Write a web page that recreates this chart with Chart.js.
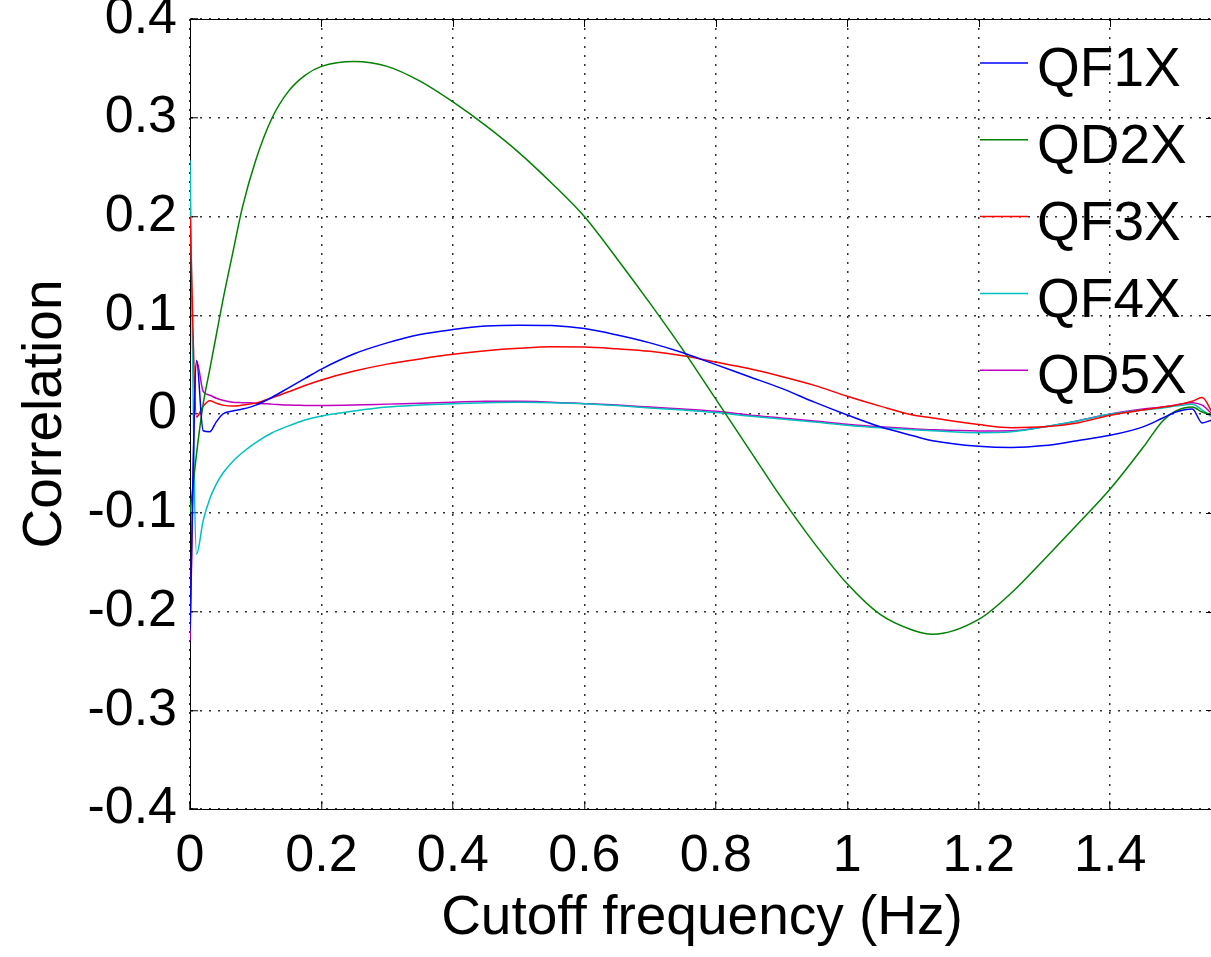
<!DOCTYPE html>
<html>
<head>
<meta charset="utf-8">
<title>Correlation vs cutoff frequency</title>
<script src="https://cdn.jsdelivr.net/npm/chart.js@4.4.1/dist/chart.umd.min.js"></script>
<style>
  html, body { margin: 0; padding: 0; background: #fff; overflow: hidden; }
  #wrap { width: 1214px; height: 957px; }
</style>
</head>
<body>
<div id="wrap"><canvas id="corrChart" width="1214" height="957"></canvas></div>
<script>
// cutoff frequency (Hz)
const freq = [0, 0.01, 0.02, 0.03, 0.04, 0.05, 0.065, 0.08, 0.1, 0.125, 0.15, 0.175, 0.2,
  0.25, 0.3, 0.35, 0.4, 0.45, 0.5, 0.55, 0.6, 0.65, 0.7, 0.75, 0.8, 0.85, 0.9, 0.95, 1.0,
  1.05, 1.1, 1.13, 1.2, 1.25, 1.3, 1.35, 1.4, 1.45, 1.48, 1.5, 1.525, 1.54, 1.555];

const qf1x = [-0.22, 0.054, -0.017, -0.018, -0.008, 0.0, 0.003, 0.005, 0.009, 0.017, 0.0265, 0.036, 0.0455,
  0.061, 0.072, 0.0805, 0.0855, 0.089, 0.090, 0.0895, 0.0865, 0.080, 0.072, 0.062, 0.050, 0.038, 0.026, 0.012, -0.001,
  -0.013, -0.022, -0.027, -0.0327, -0.034, -0.032, -0.027, -0.0216, -0.013, -0.004, 0.002, 0.005, -0.009, -0.006];

const qd2x = [-0.10, -0.04, 0.01, 0.045, 0.08, 0.115, 0.163, 0.210, 0.257, 0.300, 0.327, 0.343, 0.352,
  0.357, 0.352, 0.337, 0.316, 0.292, 0.265, 0.234, 0.200, 0.157, 0.112, 0.065, 0.015, -0.035, -0.085, -0.131, -0.172,
  -0.203, -0.219, -0.223, -0.208, -0.181, -0.147, -0.112, -0.076, -0.034, -0.007, 0.003, 0.007, 0.002, -0.001];

const qf3x = [0.20, -0.003, 0.008, 0.0135, 0.011, 0.009, 0.008, 0.009, 0.011, 0.0165, 0.0225, 0.0288, 0.0345,
  0.0435, 0.0505, 0.0558, 0.0605, 0.064, 0.0665, 0.068, 0.0678, 0.066, 0.0635, 0.059, 0.0527, 0.046, 0.038, 0.029, 0.018,
  0.008, -0.001, -0.004, -0.0107, -0.0138, -0.013, -0.009, -0.0013, 0.004, 0.007, 0.009, 0.013, 0.0166, 0.002];

const qf4x = [0.257, -0.142, -0.108, -0.086, -0.071, -0.060, -0.048, -0.039, -0.029, -0.019, -0.012, -0.006, -0.002,
  0.003, 0.007, 0.009, 0.0105, 0.0115, 0.012, 0.0115, 0.0105, 0.0085, 0.006, 0.004, 0.0014, -0.002, -0.005, -0.008, -0.0114,
  -0.014, -0.016, -0.017, -0.0189, -0.018, -0.013, -0.007, 0.0, 0.004, 0.006, 0.008, 0.0098, 0.004, -0.003];

const qd5x = [-0.23, 0.054, 0.023, 0.019, 0.016, 0.014, 0.012, 0.0115, 0.011, 0.010, 0.009, 0.0087, 0.0085,
  0.009, 0.010, 0.011, 0.012, 0.013, 0.0128, 0.012, 0.0105, 0.009, 0.007, 0.005, 0.0027, -0.001, -0.004, -0.007, -0.0104,
  -0.013, -0.015, -0.016, -0.0172, -0.017, -0.013, -0.007, 0.0, 0.005, 0.007, 0.009, 0.0115, 0.009, 0.0];

const seriesNames = ['QF1X', 'QD2X', 'QF3X', 'QF4X', 'QD5X'];
const seriesValues = [qf1x, qd2x, qf3x, qf4x, qd5x];
const seriesColors = ['#0000ff', '#008000', '#ff0000', '#00bfbf', '#bf00bf'];

const xTicks = [0, 0.2, 0.4, 0.6, 0.8, 1, 1.2, 1.4];
const yTicks = [-0.4, -0.3, -0.2, -0.1, 0, 0.1, 0.2, 0.3, 0.4];

const FONT = "'Liberation Sans', Arial, Helvetica, sans-serif";

// top and right edges of the axes box, with inward tick marks
const boxPlugin = {
  id: 'axesBox',
  afterDraw(chart) {
    const ctx = chart.ctx;
    const a = chart.chartArea;
    const xs = chart.scales.x;
    const ys = chart.scales.y;
    ctx.save();
    ctx.strokeStyle = '#000';
    ctx.lineWidth = 1;
    ctx.beginPath();
    ctx.moveTo(a.left, a.top + 0.5);
    ctx.lineTo(a.right, a.top + 0.5);
    ctx.moveTo(a.right - 0.5, a.top);
    ctx.lineTo(a.right - 0.5, a.bottom);
    xs.ticks.forEach(t => {
      const px = Math.round(xs.getPixelForValue(t.value)) + 0.5;
      ctx.moveTo(px, a.top);
      ctx.lineTo(px, a.top + 8);
    });
    ys.ticks.forEach(t => {
      const py = Math.round(ys.getPixelForValue(t.value)) + 0.5;
      ctx.moveTo(a.right, py);
      ctx.lineTo(a.right - 8, py);
    });
    ctx.stroke();
    ctx.restore();
  }
};

// legend inside the plot, no frame
const legendPlugin = {
  id: 'insideLegend',
  afterDraw(chart) {
    const ctx = chart.ctx;
    ctx.save();
    ctx.font = '55px ' + FONT;
    ctx.textBaseline = 'middle';
    ctx.textAlign = 'left';
    chart.data.datasets.forEach((ds, i) => {
      const y = 63 + i * 76.8;
      ctx.strokeStyle = ds.borderColor;
      ctx.lineWidth = 1.5;
      ctx.beginPath();
      ctx.moveTo(980, y);
      ctx.lineTo(1028, y);
      ctx.stroke();
      ctx.fillStyle = '#000';
      ctx.fillText(ds.label, 1037, y + 8);
    });
    ctx.restore();
  }
};

const datasets = seriesNames.map((name, i) => ({
  label: name,
  data: freq.map((f, j) => ({ x: f, y: seriesValues[i][j] })),
  borderColor: seriesColors[i],
  backgroundColor: seriesColors[i],
  borderWidth: 1.5,
  pointRadius: 0,
  cubicInterpolationMode: 'monotone',
  fill: false
}));

const gridOpts = {
  color: '#333',
  lineWidth: 1.5,
  tickLength: -8,
  tickColor: '#000',
  tickWidth: 1,
  tickBorderDash: []
};

new Chart(document.getElementById('corrChart'), {
  type: 'line',
  data: { datasets: datasets },
  options: {
    responsive: false,
    animation: false,
    layout: { padding: { top: 19, right: 0, bottom: 0, left: 0 } },
    plugins: {
      legend: { display: false },
      tooltip: { enabled: false }
    },
    scales: {
      x: {
        type: 'linear',
        min: 0,
        max: 1.558,
        afterBuildTicks: scale => { scale.ticks = xTicks.map(v => ({ value: v })); },
        afterFit: scale => {
          scale.height = 148;
          scale.paddingLeft = 0;
          scale.paddingRight = 0;
        },
        ticks: {
          color: '#000',
          font: { family: FONT, size: 52 },
          padding: 24,
          maxRotation: 0,
          autoSkip: false,
          includeBounds: false,
          callback: v => String(v)
        },
        grid: gridOpts,
        border: { display: true, color: '#000', width: 1, dash: [2, 7] },
        title: {
          display: true,
          text: 'Cutoff frequency (Hz)',
          color: '#000',
          font: { family: FONT, size: 55 },
          padding: { top: 0, bottom: 5 }
        }
      },
      y: {
        type: 'linear',
        min: -0.4,
        max: 0.4,
        afterBuildTicks: scale => { scale.ticks = yTicks.map(v => ({ value: v })); },
        afterFit: scale => {
          scale.width = 190;
          scale.paddingTop = 0;
          scale.paddingBottom = 0;
        },
        ticks: {
          color: '#000',
          font: { family: FONT, size: 52 },
          padding: 21,
          autoSkip: false,
          includeBounds: false,
          callback: v => String(v)
        },
        grid: gridOpts,
        border: { display: true, color: '#000', width: 1, dash: [2, 7] },
        title: {
          display: true,
          text: 'Correlation',
          color: '#000',
          font: { family: FONT, size: 55 },
          padding: { top: 13, bottom: 0 }
        }
      }
    }
  },
  plugins: [boxPlugin, legendPlugin]
});
</script>
</body>
</html>
